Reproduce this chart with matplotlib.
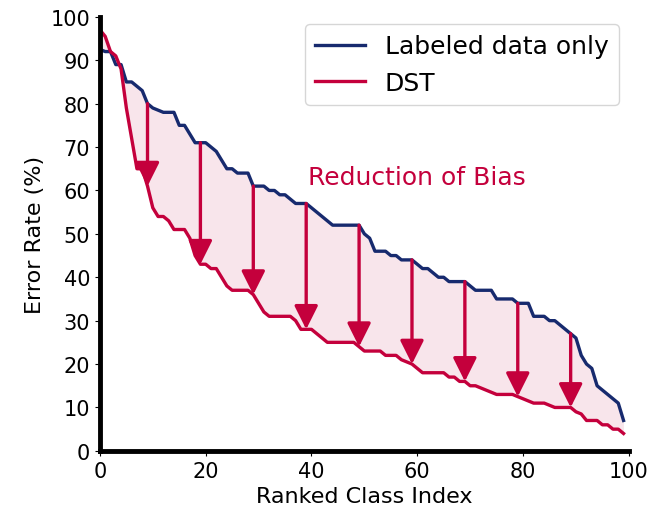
import numpy as np
import matplotlib
matplotlib.use("Agg")
import matplotlib.pyplot as plt

# error rate per ranked class
labeled = [92.5, 92, 92, 89, 89, 85, 85, 84, 83, 80,
           79, 78.5, 78, 78, 78, 75, 75, 73, 71, 71,
           71, 70, 69, 67, 65, 65, 64, 64, 64, 61,
           61, 61, 60, 60, 59, 59, 58, 57, 57, 57,
           56, 55, 54, 53, 52, 52, 52, 52, 52, 52,
           50, 49, 46, 46, 46, 45, 45, 44, 44, 44,
           43, 42, 42, 41, 40, 40, 39, 39, 39, 39,
           38, 37, 37, 37, 37, 35, 35, 35, 35, 34,
           34, 34, 31, 31, 31, 30, 30, 29, 28, 27,
           26, 22, 20, 19, 15, 14, 13, 12, 11, 7]
dst = [97, 95.5, 92, 91, 88, 79, 72, 65, 65, 61,
       56, 54, 54, 53, 51, 51, 51, 49, 45, 43,
       43, 42, 42, 40, 38, 37, 37, 37, 37, 36,
       34, 32, 31, 31, 31, 31, 31, 30, 28, 28,
       28, 27, 26, 25, 25, 25, 25, 25, 25, 24,
       23, 23, 23, 23, 22, 22, 22, 21, 20.5, 20,
       19, 18, 18, 18, 18, 18, 17, 17, 16, 16,
       15, 15, 14.5, 14, 13.5, 13, 13, 13, 13, 12.5,
       12, 11.5, 11, 11, 11, 10.5, 10, 10, 10, 10,
       9, 8.5, 7, 7, 7, 6, 6, 5, 5, 4]
arrow_idx = [9, 19, 29, 39, 49, 59, 69, 79, 89]

navy = "#172a6e"
crimson = "#c4003c"

x = np.arange(len(labeled))
fig = plt.figure(figsize=(6.53, 5.10), dpi=100)
ax = fig.add_axes([0.153, 0.114, 0.81, 0.851])

ax.fill_between(x, dst, labeled, color=crimson, alpha=0.1, lw=0)
ax.plot(x, labeled, color=navy, lw=2.4, label="Labeled data only")
ax.plot(x, dst, color=crimson, lw=2.4, label="DST")

for i in arrow_idx:
    ax.annotate("", xy=(i, dst[i]), xytext=(i, labeled[i]),
                arrowprops=dict(arrowstyle="-|>,head_length=0.8,head_width=0.4",
                                mutation_scale=18, color=crimson, lw=2.4,
                                shrinkA=0, shrinkB=0))

ax.text(39.3, 63, "Reduction of Bias", color=crimson, fontsize=18,
        ha="left", va="center")

ax.set_xlim(0, 100)
ax.set_ylim(0, 100)
ax.set_xticks([0, 20, 40, 60, 80, 100])
ax.set_yticks(range(0, 101, 10))
ax.tick_params(labelsize=15)
ax.set_xlabel("Ranked Class Index", fontsize=16)
ax.set_ylabel("Error Rate (%)", fontsize=16)
for s in ["top", "right"]:
    ax.spines[s].set_visible(False)
for s in ["left", "bottom"]:
    ax.spines[s].set_linewidth(3.5)

ax.legend(loc="upper right", fontsize=18, handlelength=2.0, borderpad=0.4,
          borderaxespad=0.3, bbox_to_anchor=(0.995, 1.0))

fig.savefig("out.png", dpi=100)
